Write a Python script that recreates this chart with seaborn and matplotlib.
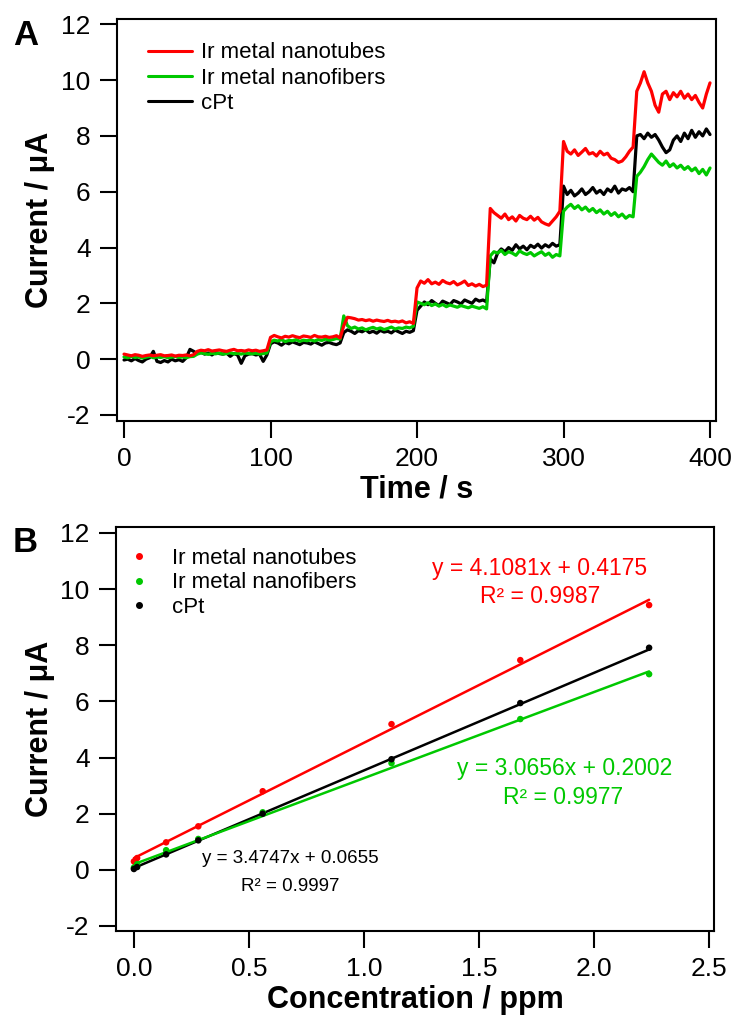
import numpy as np
import pandas as pd
import seaborn as sns
import matplotlib.pyplot as plt
from matplotlib.lines import Line2D
from matplotlib.ticker import FormatStrFormatter

sns.set_style('ticks')
plt.rcParams['font.family'] = ['Liberation Sans', 'DejaVu Sans']
plt.rcParams['axes.unicode_minus'] = False
for key in ['text.color', 'axes.labelcolor', 'xtick.color', 'ytick.color', 'axes.edgecolor']:
    plt.rcParams[key] = 'black'

# colours
RED = '#ff0000'
GREEN = '#00c800'
BLACK = '#000000'

names = ['Ir metal nanotubes', 'Ir metal nanofibers', 'cPt']
colors = {'Ir metal nanotubes': RED, 'Ir metal nanofibers': GREEN, 'cPt': BLACK}

# ---- panel A: amperometric traces, read every 2.5 s (last value at 400 s) ----
time_s = np.append(np.arange(0, 400, 2.5), 400)

red_trace = [
    0.18, 0.15, 0.12, 0.16, 0.14, 0.10, 0.13, 0.15, 0.12, 0.14, 0.16, 0.12, 0.13, 0.15, 0.11, 0.14, 0.13, 0.15, 0.12, 0.16,
    0.28, 0.32, 0.30, 0.34, 0.29, 0.31, 0.33, 0.30, 0.28, 0.32, 0.35, 0.30, 0.31, 0.29, 0.33, 0.30, 0.32, 0.28, 0.30, 0.33,
    0.78, 0.85, 0.80, 0.76, 0.82, 0.79, 0.84, 0.80, 0.77, 0.83, 0.81, 0.78, 0.85, 0.80, 0.79, 0.82, 0.78, 0.80, 0.84, 0.76,
    1.20, 1.50, 1.48, 1.45, 1.40, 1.42, 1.38, 1.41, 1.36, 1.40, 1.37, 1.35, 1.39, 1.34, 1.36, 1.33, 1.37, 1.30, 1.34, 1.28,
    2.55, 2.80, 2.72, 2.85, 2.70, 2.76, 2.68, 2.82, 2.74, 2.70, 2.78, 2.66, 2.72, 2.80, 2.64, 2.70, 2.62, 2.68, 2.60, 2.65,
    5.40, 5.25, 5.15, 5.05, 5.20, 5.00, 5.10, 4.95, 5.15, 5.05, 5.00, 5.12, 4.98, 5.08, 4.92, 4.85, 4.80, 4.95, 5.10, 5.30,
    7.80, 7.45, 7.35, 7.50, 7.30, 7.42, 7.55, 7.35, 7.40, 7.28, 7.45, 7.32, 7.38, 7.20, 7.15, 7.05, 7.10, 7.25, 7.45, 7.60,
    9.60, 9.90, 10.30, 9.90, 9.60, 9.10, 8.85, 9.50, 9.60, 9.30, 9.55, 9.40, 9.60, 9.35, 9.50, 9.30, 9.45, 9.20, 9.00, 9.50,
    9.90,
]
green_trace = [
    0.08, 0.05, 0.10, 0.06, 0.08, 0.04, 0.07, 0.10, 0.05, 0.08, 0.06, 0.09, 0.05, 0.07, 0.10, 0.06, 0.08, 0.05, 0.09, 0.10,
    0.18, 0.22, 0.20, 0.17, 0.21, 0.19, 0.22, 0.18, 0.20, 0.23, 0.19, 0.21, 0.18, 0.22, 0.20, 0.19, 0.21, 0.18, 0.20, 0.22,
    0.62, 0.68, 0.65, 0.70, 0.63, 0.67, 0.66, 0.70, 0.64, 0.68, 0.66, 0.69, 0.65, 0.70, 0.67, 0.72, 0.68, 0.70, 0.74, 0.72,
    1.55, 1.20, 1.10, 1.15, 1.08, 1.12, 1.05, 1.10, 1.14, 1.08, 1.12, 1.06, 1.10, 1.15, 1.08, 1.12, 1.10, 1.15, 1.12, 1.18,
    2.05, 2.00, 1.95, 2.02, 1.92, 1.98, 1.90, 1.96, 1.88, 1.94, 1.90, 1.86, 1.92, 1.88, 1.84, 1.90, 1.86, 1.82, 1.88, 1.80,
    3.70, 3.85, 3.80, 3.90, 3.75, 3.85, 3.80, 3.72, 3.88, 3.80, 3.75, 3.82, 3.70, 3.78, 3.85, 3.72, 3.80, 3.65, 3.75, 3.70,
    5.30, 5.45, 5.55, 5.40, 5.50, 5.35, 5.45, 5.30, 5.40, 5.25, 5.35, 5.20, 5.30, 5.15, 5.25, 5.10, 5.20, 5.05, 5.15, 5.10,
    6.55, 6.70, 6.90, 7.15, 7.35, 7.20, 7.05, 6.95, 7.10, 6.90, 7.00, 6.85, 6.95, 6.80, 6.90, 6.75, 6.85, 6.65, 6.80, 6.60,
    6.85,
]
black_trace = [
    -0.03, 0.00, -0.06, 0.02, -0.05, -0.10, 0.00, 0.05, 0.28, -0.08, -0.12, -0.05, -0.10, 0.00, -0.06, -0.02, -0.08, 0.05, 0.35, 0.28,
    0.20, 0.25, 0.18, 0.22, 0.15, 0.24, 0.20, 0.18, 0.22, 0.10, 0.20, 0.15, -0.15, 0.12, 0.18, 0.20, 0.15, 0.18, -0.08, 0.15,
    0.55, 0.62, 0.58, 0.50, 0.60, 0.55, 0.62, 0.57, 0.52, 0.60, 0.58, 0.54, 0.62, 0.56, 0.50, 0.58, 0.60, 0.55, 0.52, 0.58,
    0.95, 1.05, 1.00, 0.92, 1.02, 0.98, 1.05, 0.95, 1.00, 0.93, 1.03, 0.97, 1.00, 0.94, 1.04, 0.98, 0.92, 1.00, 0.96, 1.02,
    1.75, 1.90, 2.05, 1.95, 2.10, 2.00, 1.92, 2.08, 2.02, 1.96, 2.10, 2.05, 1.98, 2.12, 2.06, 2.00, 2.15, 2.08, 2.12, 2.05,
    3.60, 3.45, 3.80, 3.95, 3.85, 4.00, 3.90, 4.10, 3.95, 4.05, 3.92, 4.08, 4.00, 4.12, 3.98, 4.10, 4.02, 4.15, 4.05, 4.10,
    6.20, 5.90, 6.05, 5.85, 5.95, 6.10, 5.90, 6.00, 6.15, 5.95, 6.05, 5.90, 6.10, 6.00, 6.20, 5.95, 6.10, 6.05, 6.15, 6.00,
    8.00, 8.05, 7.90, 8.10, 7.95, 8.05, 7.85, 7.60, 7.40, 7.50, 7.85, 8.00, 7.80, 8.10, 7.90, 8.20, 7.95, 8.15, 8.00, 8.25,
    8.05,
]

# ---- panel B: calibration points and linear fits ----
conc_ppm = [0.0, 0.014, 0.14, 0.28, 0.56, 1.12, 1.68, 2.24]
red_points = [0.30, 0.42, 0.98, 1.55, 2.80, 5.19, 7.47, 9.43]
green_points = [0.08, 0.20, 0.70, 1.10, 2.05, 3.80, 5.37, 6.97]
black_points = [0.03, 0.10, 0.55, 1.05, 2.00, 3.94, 5.94, 7.91]

slopes = {'Ir metal nanotubes': 4.1081, 'Ir metal nanofibers': 3.0656, 'cPt': 3.4747}
intercepts = {'Ir metal nanotubes': 0.4175, 'Ir metal nanofibers': 0.2002, 'cPt': 0.0655}
r_squared = {'Ir metal nanotubes': 0.9987, 'Ir metal nanofibers': 0.9977, 'cPt': 0.9997}

traces = pd.DataFrame({
    'time': np.tile(time_s, 3),
    'current': red_trace + green_trace + black_trace,
    'electrode': np.repeat(names, len(time_s)),
})
points = pd.DataFrame({
    'conc': conc_ppm * 3,
    'current': red_points + green_points + black_points,
    'electrode': np.repeat(names, len(conc_ppm)),
})
xfit = np.array([0.0, max(conc_ppm)])
fits = pd.DataFrame({
    'conc': np.tile(xfit, 3),
    'current': np.concatenate([slopes[n] * xfit + intercepts[n] for n in names]),
    'electrode': np.repeat(names, 2),
})

draw_order = ['cPt', 'Ir metal nanofibers', 'Ir metal nanotubes']

fig = plt.figure(figsize=(7.34, 10.21), dpi=100)
ax1 = fig.add_axes([0.1594, 0.5877, 0.8161, 0.3937])
ax2 = fig.add_axes([0.1580, 0.0881, 0.8147, 0.3957])

sns.lineplot(data=traces, x='time', y='current', hue='electrode', hue_order=draw_order,
             palette=colors, estimator=None, sort=False, lw=2.3, legend=False, ax=ax1)

sns.lineplot(data=fits, x='conc', y='current', hue='electrode', hue_order=draw_order,
             palette=colors, estimator=None, lw=1.8, legend=False, ax=ax2)
sns.scatterplot(data=points, x='conc', y='current', hue='electrode', hue_order=draw_order,
                palette=colors, s=22, edgecolor='none', legend=False, ax=ax2, zorder=3)

# axes styling
for ax in (ax1, ax2):
    for sp in ax.spines.values():
        sp.set_visible(True)
        sp.set_color('black')
        sp.set_linewidth(1.5)
    ax.tick_params(axis='both', which='major', direction='out', length=12, width=1.5,
                   labelsize=19, pad=7, top=False, right=False, colors='black')
    ax.set_yticks(np.arange(-2, 13, 2))
    ax.set_ylabel('Current / \u03bcA', fontsize=22, fontweight='bold')
    ax.grid(False)

ax1.set_xlim(-4.8, 404.1)
ax1.set_ylim(-2.215, 12.19)
ax1.set_xticks([0, 100, 200, 300, 400])
ax1.set_xlabel('Time / s', fontsize=22, fontweight='bold')
ax1.yaxis.set_label_coords(-0.1035, 0.5)
ax1.xaxis.set_label_coords(0.5, -0.132)

ax2.set_xlim(-0.078, 2.522)
ax2.set_ylim(-2.18, 12.21)
ax2.set_xticks([0, 0.5, 1.0, 1.5, 2.0, 2.5])
ax2.xaxis.set_major_formatter(FormatStrFormatter('%.1f'))
ax2.set_xlabel('Concentration / ppm', fontsize=22, fontweight='bold')
ax2.yaxis.set_label_coords(-0.102, 0.5)
ax2.xaxis.set_label_coords(0.5, -0.134)

# legends
line_handles = [Line2D([0], [0], color=colors[n], lw=2.2) for n in names]
ax1.legend(line_handles, names, loc='upper left', bbox_to_anchor=(0.0518, 0.942),
           frameon=False, fontsize=16, handlelength=2.0, handletextpad=0.4,
           labelspacing=0.2, borderpad=0, borderaxespad=0)

dot_handles = [Line2D([0], [0], color=colors[n], marker='o', ms=4, ls='') for n in names]
ax2.legend(dot_handles, names, loc='upper left', bbox_to_anchor=(0.022, 0.948),
           frameon=False, fontsize=16, handlelength=0.9, handletextpad=1.05,
           labelspacing=0.15, borderpad=0, borderaxespad=0)

# fit equations
eq_pos = {
    'Ir metal nanotubes': ((1.765, 10.75), (1.765, 9.72), 16.5),
    'Ir metal nanofibers': ((1.874, 3.62), (1.865, 2.59), 16.5),
    'cPt': ((0.678, 0.41), (0.678, -0.59), 13.5),
}
for n in names:
    (x1, y1), (x2, y2), fs = eq_pos[n]
    ax2.text(x1, y1, f'y = {slopes[n]:.4f}x + {intercepts[n]:.4f}', color=colors[n],
             fontsize=fs, ha='center', va='center')
    ax2.text(x2, y2, f'R\u00b2 = {r_squared[n]:.4f}', color=colors[n],
             fontsize=fs, ha='center', va='center')

# panel letters
fig.text(13 / 734, 1 - 45 / 1021, 'A', fontsize=25, fontweight='bold', ha='left', va='baseline')
fig.text(13 / 734, 1 - 552 / 1021, 'B', fontsize=25, fontweight='bold', ha='left', va='baseline')

fig.savefig('out.png', dpi=100)
